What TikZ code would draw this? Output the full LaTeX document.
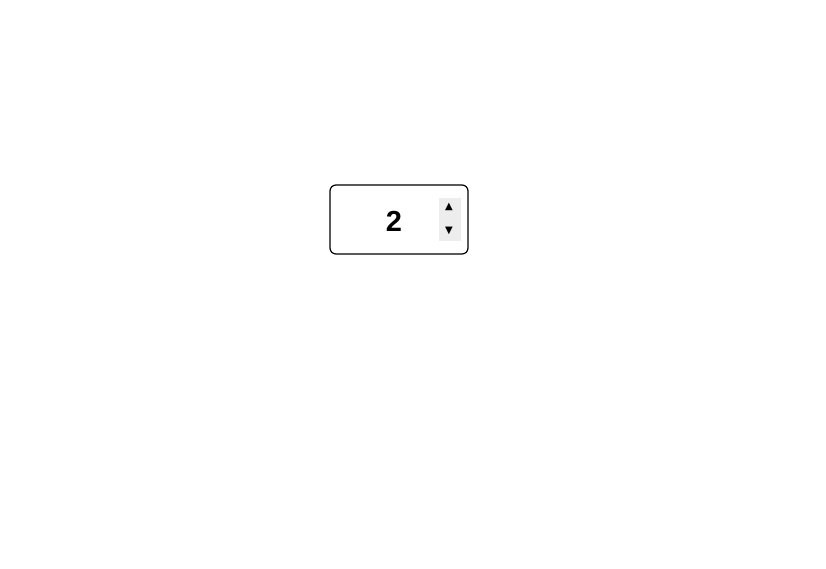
\documentclass[tikz,border=0pt]{standalone}
\usepackage{fontspec}
\setmainfont{Liberation Sans}
\newfontfamily\symfont{DejaVu Sans}
\usetikzlibrary{positioning}

\begin{document}
\begin{tikzpicture}[x=1pt,y=-1pt,
		inputbox/.style={draw,line width=1.2pt,rounded corners=6pt,minimum width=138pt,minimum height=69pt},
		spinbox/.style={fill=black!7,minimum width=22pt,minimum height=43pt,inner sep=0pt},
		arrowglyph/.style={font=\symfont\fontsize{10}{10}\selectfont,inner sep=0pt}]
	\useasboundingbox (0,0) rectangle (826,568);
	\node[inputbox] (box) at (399,219.5) {};
	\node[font=\bfseries\fontsize{29}{29}\selectfont] (value) at (394,221.5) {2};
	\node[spinbox] (spin) at (449.5,219.5) {};
	\node[arrowglyph] (up) at (449,207) {▲};
	\node[arrowglyph] (down) at (449,231) {▼};
\end{tikzpicture}
\end{document}
